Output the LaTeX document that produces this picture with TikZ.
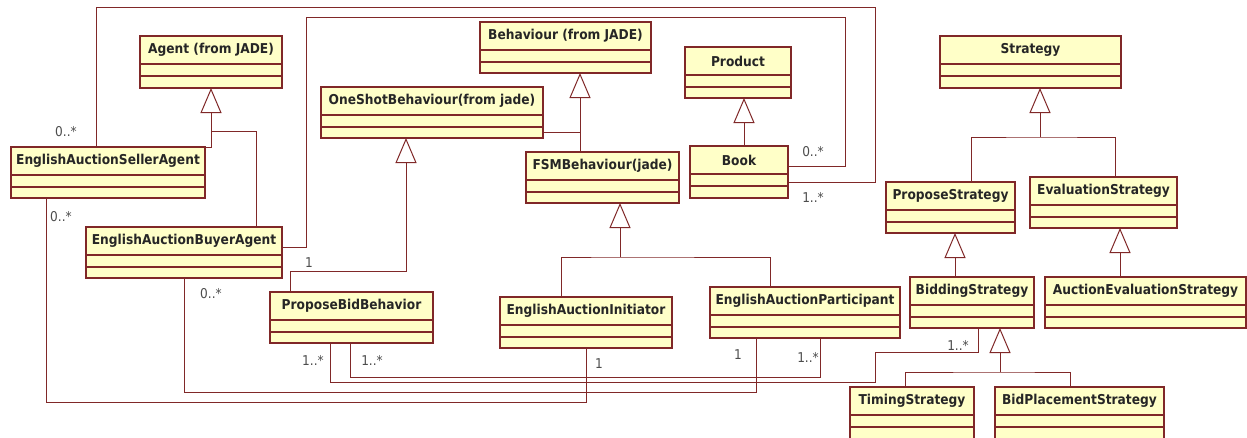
\documentclass[tikz,border=0pt]{standalone}
\usepackage{fontspec}
\setmainfont{DejaVu Sans Condensed}
\usetikzlibrary{arrows.meta,fit}
\definecolor{umlline}{RGB}{128,40,40}
\definecolor{umlfill}{RGB}{255,255,200}
\tikzset{
  clsbox/.style={draw=umlline, fill=umlfill, line width=1.2pt, inner sep=0pt, outer sep=0pt},
  clsrule/.style={draw=umlline, line width=1.1pt},
  clstitle/.style={font=\fontsize{13.6}{15}\selectfont\bfseries, text=black!85, inner sep=0pt},
  link/.style={draw=umlline, line width=1pt},
  gen/.style={link, -{Triangle[open, length=25pt, width=21pt]}},
  mult/.style={font=\fontsize{13.5}{15}\selectfont, text=black!70, inner sep=0pt}
}
% class box: name, x1, y1, x2, y2, title
\newcommand{\classbox}[6]{%
  \node[clsbox, fit={(#2,#3) (#4,#5)}] (#1) {};
  \draw[clsrule] ([yshift=-28pt]#1.north west) -- ([yshift=-28pt]#1.north east);
  \draw[clsrule] ([yshift=-40pt]#1.north west) -- ([yshift=-40pt]#1.north east);
  \node[clstitle] at ([yshift=-14pt]#1.north) {#6};
}
\begin{document}
\begin{tikzpicture}[x=1pt, y=-1pt]
\useasboundingbox[fill=white] (0,0) rectangle (1247,437);

% classes
\classbox{agent}{140}{36}{282}{88}{Agent (from JADE)}
\classbox{seller}{11}{147}{205}{198}{EnglishAuctionSellerAgent}
\classbox{buyer}{86}{227}{282}{278}{EnglishAuctionBuyerAgent}
\classbox{oneshot}{321}{87}{543}{138}{OneShotBehaviour(from jade)}
\classbox{behaviour}{480}{22}{651}{73}{Behaviour (from JADE)}
\classbox{fsm}{526}{152}{679}{203}{FSMBehaviour(jade)}
\classbox{product}{685}{47}{791}{98}{Product}
\classbox{book}{690}{146}{788}{198}{Book}
\classbox{pbb}{270}{292}{433}{343}{ProposeBidBehavior}
\classbox{init}{500}{297}{672}{348}{EnglishAuctionInitiator}
\classbox{part}{710}{287}{900}{338}{EnglishAuctionParticipant}
\classbox{strategy}{940}{36}{1121}{88}{Strategy}
\classbox{propose}{886}{182}{1015}{233}{ProposeStrategy}
\classbox{evaluation}{1030}{177}{1177}{228}{EvaluationStrategy}
\classbox{bidding}{910}{277}{1034}{328}{BiddingStrategy}
\classbox{auceval}{1045}{277}{1246}{328}{AuctionEvaluationStrategy}
\classbox{timing}{850}{387}{974}{442}{TimingStrategy}
\classbox{bidplace}{995}{387}{1164}{442}{BidPlacementStrategy}

% junctions of the generalization trees
\coordinate (jA) at (211,131);
\coordinate (jB) at (580,132);
\coordinate (jC) at (406,271);
\coordinate (jD) at (620,257);
\coordinate (jE) at (1040,137);
\coordinate (jF) at (1000,372);

% generalizations
\draw[link] (seller.north east) -| (jA);
\draw[link] (buyer.north -| 256,0) |- (jA);
\draw[gen] (jA) -- (agent.south -| jA);

\draw[link] (oneshot.east |- jB) -- (jB);
\draw[gen] (fsm.north -| jB) -- (behaviour.south -| jB);

\draw[gen] (pbb.north -| 290,0) |- (jC) -- (oneshot.south -| jC);

\draw[link] (init.north -| 561,0) |- (jD) -| (part.north -| 770,0);
\draw[gen] (jD) -- (fsm.south -| jD);

\draw[gen] (book.north -| 744,0) -- (product.south -| 744,0);

\draw[link] (propose.north -| 971,0) |- (jE) -| (evaluation.north -| 1115,0);
\draw[gen] (jE) -- (strategy.south -| jE);

\draw[gen] (bidding.north -| 955,0) -- (propose.south -| 955,0);
\draw[gen] (auceval.north -| 1120,0) -- (evaluation.south -| 1120,0);

\draw[link] (timing.north -| 905,0) |- (jF) -| (bidplace.north -| 1070,0);
\draw[gen] (jF) -- (bidding.south -| jF);

% associations
\draw[link] (seller.north -| 96,0) |- (875,7) |- (book.east |- 0,182);
\draw[link] (buyer.east |- 0,247) -| (306,17) -| (845,166) -- (book.east |- 0,166);
\draw[link] (seller.south -| 46,0) |- (586,402) -- (init.south -| 586,0);
\draw[link] (buyer.south -| 184,0) |- (756,392) -- (part.south -| 756,0);
\draw[link] (pbb.south -| 330,0) |- (875,382) |- (978,352) -- (bidding.south -| 978,0);
\draw[link] (pbb.south -| 350,0) |- (820,377) -- (part.south -| 820,0);

% multiplicities
\node[mult] (m1) at (66,132) {0..*};
\node[mult] (m2) at (61,217) {0..*};
\node[mult] (m3) at (211,294) {0..*};
\node[mult] (m4) at (309,263) {1};
\node[mult] (m5) at (313,360) {1..*};
\node[mult] (m6) at (372,360) {1..*};
\node[mult] (m7) at (599,364) {1};
\node[mult] (m8) at (738,355) {1};
\node[mult] (m9) at (808,357) {1..*};
\node[mult] (m10) at (958,345) {1..*};
\node[mult] (m11) at (813,152) {0..*};
\node[mult] (m12) at (813,197) {1..*};
\end{tikzpicture}
\end{document}
